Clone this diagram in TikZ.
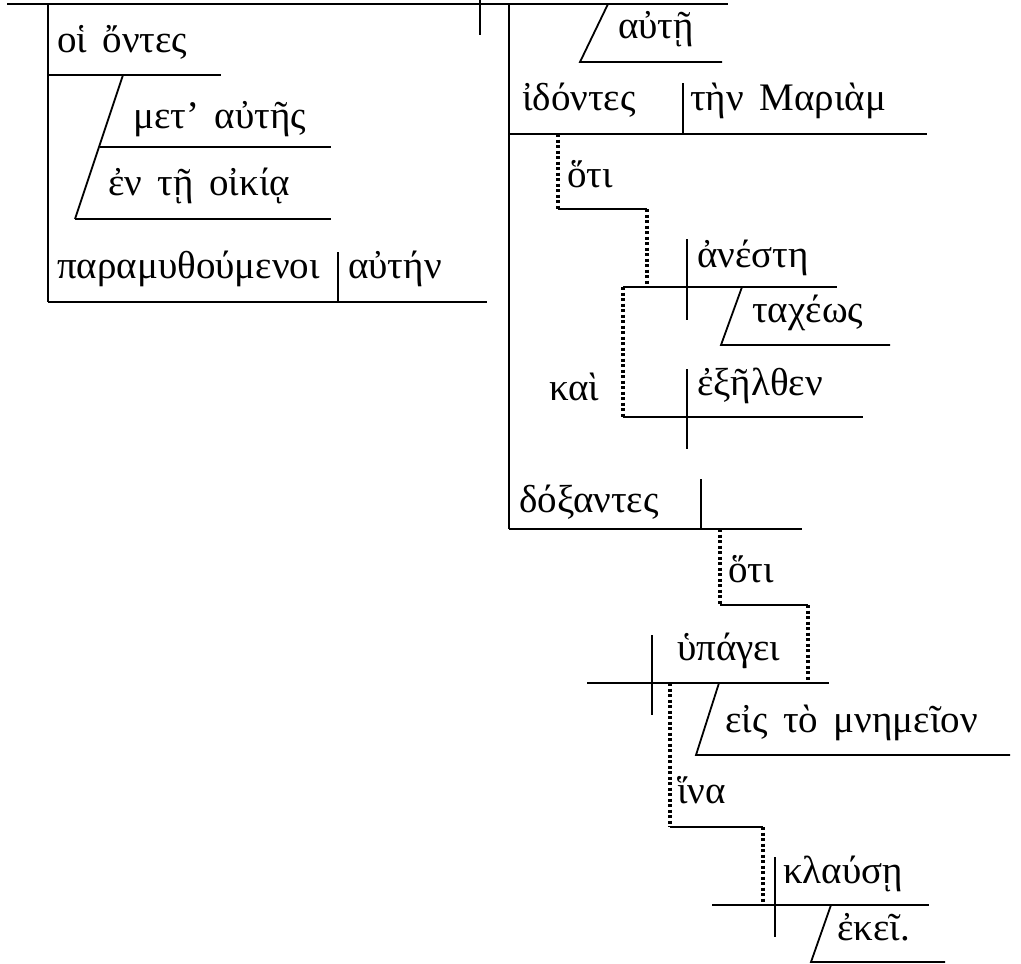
\documentclass[tikz,border=0pt]{standalone}
\usepackage{fontspec}
\setmainfont{Liberation Serif}[WordSpace=1.6]
\begin{document}
\begin{tikzpicture}[x=1pt,y=-1pt,
  ln/.style={line width=1.8pt},
  dl/.style={line width=3.2pt,dash pattern=on 3pt off 2.5pt},
  wd/.style={anchor=base west,inner sep=0pt,font=\fontsize{39}{43}\selectfont}]
\useasboundingbox (0,0) rectangle (1021,964);
% words
\node[wd] (w1) at (57,52) {οἱ ὄντες};
\node[wd] (w2) at (133,128) {μετ’ αὐτῆς};
\node[wd] (w3) at (108,195) {ἐν τῇ οἰκίᾳ};
\node[wd] (w4) at (57,278) {παραμυθούμενοι};
\node[wd] (w5) at (348,278) {αὐτήν};
\node[wd] (w6) at (618,38) {αὐτῇ};
\node[wd] (w7) at (522,110) {ἰδόντες};
\node[wd] (w8) at (690,110) {τὴν Μαριὰμ};
\node[wd] (w9) at (567,187) {ὅτι};
\node[wd] (w10) at (697,267) {ἀνέστη};
\node[wd] (w11) at (752,322) {ταχέως};
\node[wd] (w12) at (549,400) {καὶ};
\node[wd] (w13) at (697,395) {ἐξῆλθεν};
\node[wd] (w14) at (519,512) {δόξαντες};
\node[wd] (w15) at (728,582) {ὅτι};
\node[wd] (w16) at (677,660) {ὑπάγει};
\node[wd] (w17) at (725,732) {εἰς τὸ μνημεῖον};
\node[wd] (w18) at (677,803) {ἵνα};
\node[wd] (w19) at (783,883) {κλαύσῃ};
\node[wd] (w20) at (837,940) {ἐκεῖ.};
% main line
\draw[ln] (7,4) -- (728,4);
\draw[ln] (480,0) -- (480,35);
% subject
\draw[ln] (48,4) -- (48,302);
\draw[ln] (48,75) -- (221,75);
\draw[ln] (123,75) -- (75,219);
\draw[ln] (100,147) -- (331,147);
\draw[ln] (75,219) -- (331,219);
\draw[ln] (48,302) -- (487,302);
\draw[ln] (338,252) -- (338,302);
% right stem
\draw[ln] (509,4) -- (509,529);
\draw[ln] (608,4) -- (580,62) -- (722,62);
\draw[ln] (509,134) -- (927,134);
\draw[ln] (683,83) -- (683,134);
\draw[dl] (558,134) -- (558,209);
\draw[ln] (558,209) -- (647,209);
\draw[dl] (647,209) -- (647,287);
\draw[ln] (623,287) -- (837,287);
\draw[ln] (687,239) -- (687,320);
\draw[ln] (742,287) -- (721,345) -- (890,345);
\draw[dl] (623,287) -- (623,417);
\draw[ln] (623,417) -- (863,417);
\draw[ln] (687,369) -- (687,449);
\draw[ln] (509,529) -- (802,529);
\draw[ln] (701,479) -- (701,529);
\draw[dl] (720,529) -- (720,605);
\draw[ln] (720,605) -- (808,605);
\draw[dl] (808,605) -- (808,683);
\draw[ln] (587,683) -- (829,683);
\draw[ln] (652,635) -- (652,715);
\draw[ln] (719,683) -- (696,755) -- (1010,755);
\draw[dl] (670,683) -- (670,827);
\draw[ln] (670,827) -- (763,827);
\draw[dl] (763,827) -- (763,905);
\draw[ln] (712,905) -- (929,905);
\draw[ln] (775,857) -- (775,937);
\draw[ln] (831,905) -- (811,962) -- (945,962);
\end{tikzpicture}
\end{document}
